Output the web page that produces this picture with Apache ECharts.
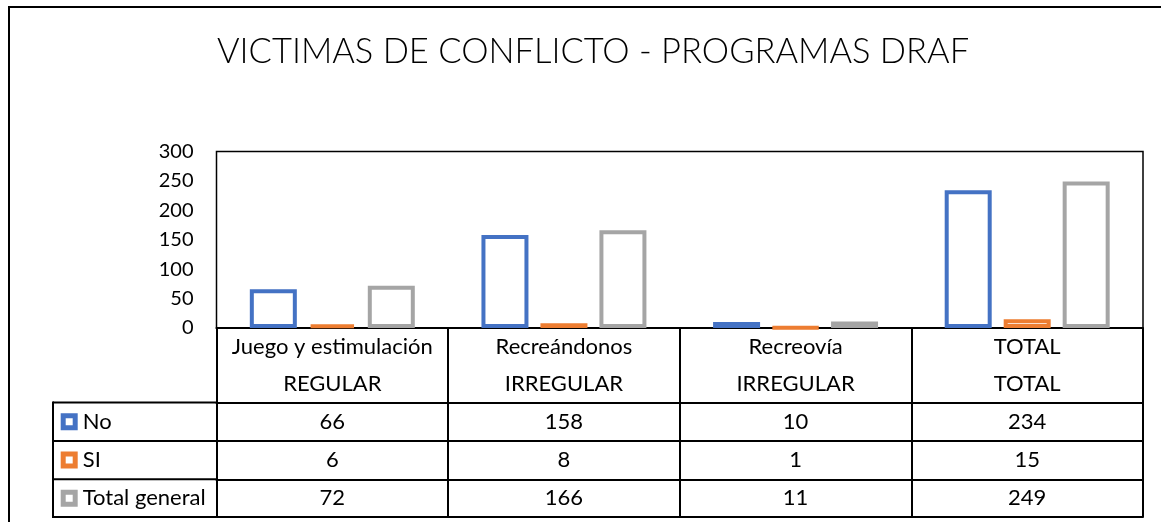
<!DOCTYPE html>
<html>
<head>
<meta charset="utf-8">
<script src="https://cdn.jsdelivr.net/npm/echarts@6/dist/echarts.min.js"></script>
<style>
  html, body { margin: 0; padding: 0; background: #fff; }
  #chart { width: 1161px; height: 522px; }
</style>
</head>
<body>
<div id="chart"></div>
<script>
// ---- data ----
const titleText = 'VICTIMAS DE CONFLICTO - PROGRAMAS DRAF';
const categories = ['Juego y estimulación', 'Recreándonos', 'Recreovía', 'TOTAL'];
const groups = ['REGULAR', 'IRREGULAR', 'IRREGULAR', 'TOTAL'];
const seriesNames = ['No', 'SI', 'Total general'];
const noValues = [66, 158, 10, 234];
const siValues = [6, 8, 1, 15];
const totalValues = [72, 166, 11, 249];
const yMin = 0, yMax = 300, yInterval = 50;

// ---- style / layout ----
const colors = ['#4472C4', '#ED7D31', '#A5A5A5'];
const FONT = 'Lato, "Open Sans", sans-serif';
const TABLE_FS = 22;
const W = 1161, H = 522;
const gridLeft = 216.5, gridTop = 151.5, gridRight = 18, gridBottom = 194;
const axisY = H - gridBottom;            // 328
const rowOffsets = [0, 37, 74.5, 113, 151.3, 189]; // boundaries below axis
const tableLeft = 53;
const lineW = 2;

const seriesValues = [noValues, siValues, totalValues];

const chart = echarts.init(document.getElementById('chart'), null, { renderer: 'canvas' });

function tableAxis(offset, height, formatter, showLine) {
  return {
    type: 'category',
    data: categories,
    position: 'bottom',
    offset: offset,
    gridIndex: 0,
    axisLine: { show: showLine, lineStyle: { color: '#000', width: lineW } },
    axisTick: { show: height > 0, interval: 0, length: height, lineStyle: { color: '#000', width: lineW } },
    axisLabel: {
      show: !!formatter,
      interval: 0,
      margin: height / 2,
      verticalAlign: 'middle',
      color: '#000',
      fontFamily: FONT,
      fontSize: TABLE_FS,
      formatter: formatter || undefined
    },
    splitLine: { show: false }
  };
}

const xAxes = [
  tableAxis(rowOffsets[0], rowOffsets[1] - rowOffsets[0], (v, i) => categories[i], true),
  tableAxis(rowOffsets[1], rowOffsets[2] - rowOffsets[1], (v, i) => groups[i], false),
  tableAxis(rowOffsets[2], rowOffsets[3] - rowOffsets[2], (v, i) => String(noValues[i]), true),
  tableAxis(rowOffsets[3], rowOffsets[4] - rowOffsets[3], (v, i) => String(siValues[i]), true),
  tableAxis(rowOffsets[4], rowOffsets[5] - rowOffsets[4], (v, i) => String(totalValues[i]), true),
  tableAxis(rowOffsets[5], 0, null, true)
];

// left label column lines
const leftLines = [];
for (let r = 2; r < rowOffsets.length; r++) {
  const y = axisY + rowOffsets[r];
  leftLines.push({
    type: 'line',
    shape: { x1: tableLeft, y1: y, x2: gridLeft, y2: y },
    style: { stroke: '#000', lineWidth: lineW }
  });
}
leftLines.push({
  type: 'line',
  shape: { x1: tableLeft, y1: axisY + rowOffsets[2] - 1, x2: tableLeft, y2: axisY + rowOffsets[5] + 1 },
  style: { stroke: '#000', lineWidth: lineW }
});

// hollow square legend key (outer 17, hole 7)
const keyIcon = 'path://M0,0H17V17H0Z M5,5V12H12V5Z';

const option = {
  animation: false,
  backgroundColor: '#fff',
  grid: {
    left: gridLeft, top: gridTop, right: gridRight, bottom: gridBottom,
    show: true, borderColor: '#000', borderWidth: 1.5, containLabel: false
  },
  xAxis: xAxes,
  yAxis: {
    type: 'value',
    min: yMin, max: yMax, interval: yInterval,
    axisLine: { show: false },
    axisTick: { show: false },
    splitLine: { show: false },
    axisLabel: { color: '#000', fontFamily: FONT, fontSize: 20, margin: 23 }
  },
  legend: {
    orient: 'vertical',
    left: 55.7, top: 405.7,
    itemWidth: 17, itemHeight: 17,
    itemGap: 16.3,
    textStyle: { color: '#000', fontFamily: FONT, fontSize: TABLE_FS, lineHeight: 22 },
    data: seriesNames.map((n, i) => ({
      name: n,
      icon: keyIcon,
      itemStyle: { color: colors[i], borderWidth: 0 }
    }))
  },
  series: seriesNames.map((n, i) => ({
    name: n,
    type: 'bar',
    xAxisIndex: 0,
    data: seriesValues[i],
    barWidth: 47,
    barGap: '25.5%',
    itemStyle: { color: '#fff', borderColor: colors[i], borderWidth: 4 }
  })),
  graphic: [
    {
      type: 'rect',
      shape: { x: 9, y: 7, width: 1300, height: 700 },
      style: { fill: 'none', stroke: '#000', lineWidth: 2 },
      silent: true
    },
    {
      type: 'text',
      x: 217, y: 52,
      style: {
        text: titleText,
        fill: '#000',
        font: '300 34.5px ' + FONT,
        textAlign: 'left',
        textVerticalAlign: 'middle'
      }
    }
  ].concat(leftLines)
};

chart.setOption(option);
</script>
</body>
</html>
